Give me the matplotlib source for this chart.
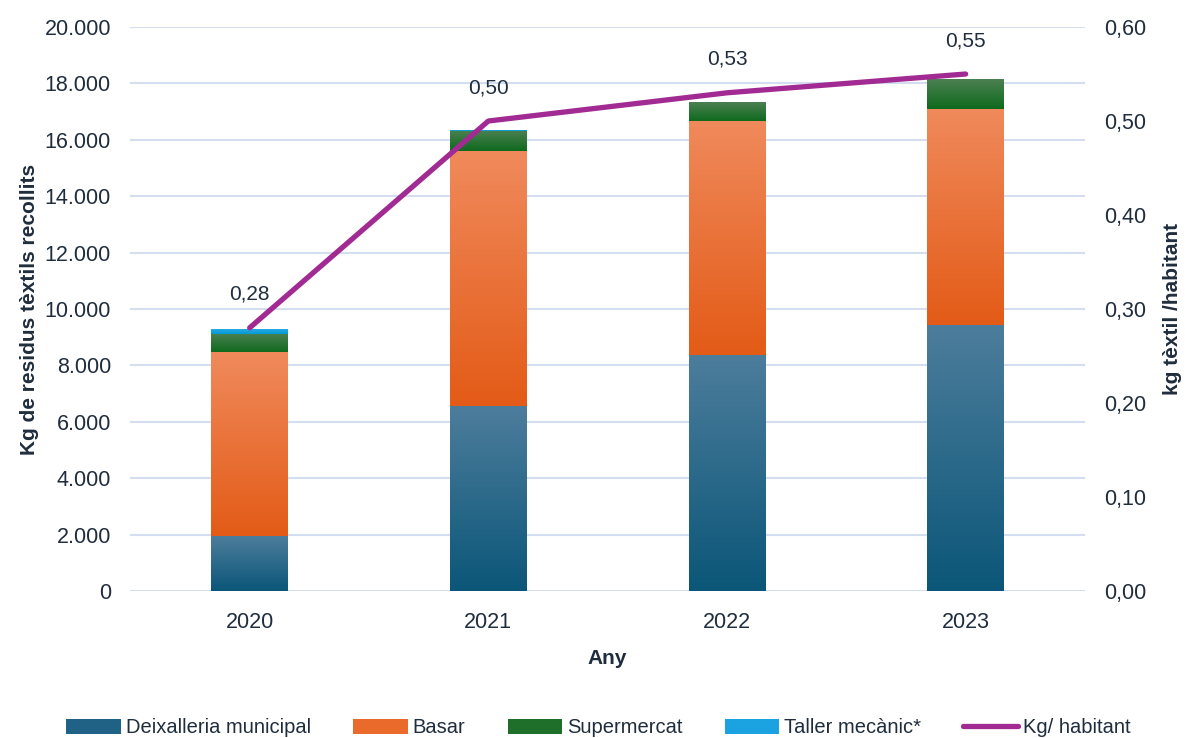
import numpy as np
import matplotlib
matplotlib.use("Agg")
import matplotlib.pyplot as plt
from matplotlib.colors import LinearSegmentedColormap
from matplotlib.patches import Patch
from matplotlib.lines import Line2D
from matplotlib.ticker import FuncFormatter

years = ["2020", "2021", "2022", "2023"]
deixalleria = [1950, 6560, 8370, 9430]
basar = [6525, 9040, 8300, 7660]
supermercat = [640, 710, 670, 1060]
taller = [180, 50, 0, 0]
kg_hab = [0.28, 0.50, 0.53, 0.55]

series_names = ["Deixalleria municipal", "Basar", "Supermercat", "Taller mecànic*"]
grad = [("#4d7d9c", "#0b5678"), ("#f08a5c", "#e35b17"), ("#4b8052", "#0f6a1d"), ("#32aee6", "#0099d6")]
solid = ["#1f6285", "#ea6a2c", "#1f6f2a", "#1aa3e0"]
line_color = "#a12b92"
txt = "#1f2d3d"

plt.rcParams['font.family'] = ["Liberation Sans", "DejaVu Sans"]

fig = plt.figure(figsize=(11.85, 7.38), dpi=100)
ax = fig.add_axes([0.110, 0.1992, 0.8056, 0.7642])
ax2 = ax.twinx()

x = np.arange(len(years))
width = 0.32
bottom = np.zeros(len(years))
grad_img = np.linspace(0, 1, 256).reshape(-1, 1)
for vals, (ctop, cbot) in zip([deixalleria, basar, supermercat, taller], grad):
    bars = ax.bar(x, vals, width, bottom=bottom, color=cbot, linewidth=0, zorder=2)
    cmap = LinearSegmentedColormap.from_list("g", [cbot, ctop])
    for b in bars:
        if b.get_height() <= 0:
            continue
        x0, y0 = b.get_x(), b.get_y()
        im = ax.imshow(grad_img, cmap=cmap, origin="lower", aspect="auto",
                       extent=[x0, x0 + b.get_width(), y0, y0 + b.get_height()], zorder=2.5)
        im.set_clip_path(b)
    bottom += np.array(vals)

ax.set_xlim(-0.5, 3.5)
ax.set_ylim(0, 20000)
ax.set_yticks(np.arange(0, 20001, 2000))
ax.yaxis.set_major_formatter(FuncFormatter(lambda v, p: f"{int(v):,}".replace(",", ".")))
ax.grid(axis="y", color="#d3def0", linewidth=1.5, zorder=0)
ax.set_axisbelow(True)
ax.set_xticks(x)
ax.set_xticklabels(years)

ax2.plot(x, kg_hab, color=line_color, linewidth=3.8, solid_capstyle="round", zorder=5)
for xi, v in zip(x, kg_hab):
    ax2.annotate(f"{v:.2f}".replace(".", ","), (xi, v), xytext=(0, 24), textcoords="offset points",
                 ha="center", va="center", fontsize=15, color=txt)
ax2.set_ylim(0, 0.60)
ax2.set_yticks(np.arange(0, 0.601, 0.1))
ax2.yaxis.set_major_formatter(FuncFormatter(lambda v, p: f"{v:.2f}".replace(".", ",")))

for a in (ax, ax2):
    for s in a.spines.values():
        s.set_visible(False)
    a.tick_params(length=0, labelsize=15.5, labelcolor=txt)
ax.tick_params(axis="x", pad=15)
ax.tick_params(axis="y", pad=14)
ax2.tick_params(axis="y", pad=14)

ax.set_xlabel("Any", fontsize=15, fontweight="bold", color=txt, labelpad=12)
ax.set_ylabel("Kg de residus tèxtils recollits", fontsize=15, fontweight="bold", color=txt, labelpad=4)
ax2.set_ylabel("kg tèxtil /habitant", fontsize=15, fontweight="bold", color=txt, labelpad=12)

handles = [Patch(facecolor=c, edgecolor="none") for c in solid]
handles.append(Line2D([0], [0], color=line_color, linewidth=3.8, solid_capstyle="round"))
labels = series_names + ["Kg/ habitant"]
fig.legend(handles, labels, loc="center", bbox_to_anchor=(0.505, 0.014), ncol=5, frameon=False,
           prop={"size": 14.5}, handlelength=2.7, handleheight=0.75, handletextpad=0.25,
           columnspacing=2.1, labelcolor=txt, borderaxespad=0)

fig.savefig("out.png", dpi=100)
